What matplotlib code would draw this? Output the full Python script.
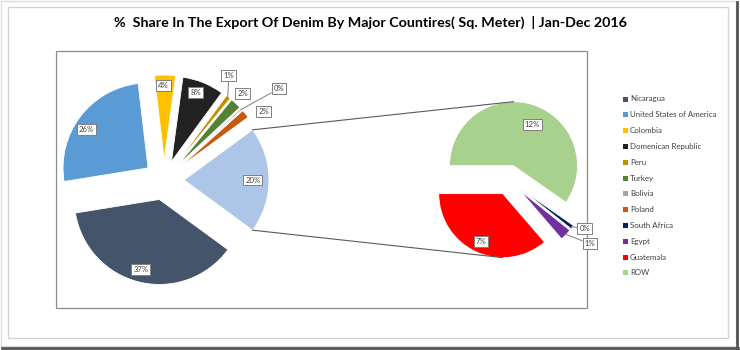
import numpy as np
import matplotlib
matplotlib.use('Agg')
import matplotlib.pyplot as plt
from matplotlib.patches import Rectangle

# main pie (clockwise), last slice "other" is split into the secondary pie
main_names = ['Nicaragua', 'United States of America', 'Colombia', 'Domenican Republic',
              'Peru', 'Turkey', 'Bolivia', 'Poland']
main_values = [37.4, 25.7, 4.0, 7.9, 0.9, 2.1, 0.3, 1.6]
sub_names = ['South Africa', 'Egypt', 'Guatemala', 'ROW']
sub_values = [0.2, 0.6, 7.3, 12.0]

main_colors = ['#44546A', '#5B9BD5', '#FFC000', '#222222', '#BF9000', '#548235', '#A5A5A5', '#C55A11']
sub_colors = ['#002060', '#7030A0', '#FF0000', '#A9D18E']
other_color = '#ADC6E8'

title = '%  Share In The Export Of Denim By Major Countires( Sq. Meter)  | Jan-Dec 2016'

W, H = 740, 350
FONT = ['Lato', 'DejaVu Sans']

fig = plt.figure(figsize=(W / 100, H / 100), dpi=100)
ax = fig.add_axes([0, 0, 1, 1])


def iy(y):
    # image row -> data y
    return H - y


# pie geometry
c1, r1, ex1 = (164, iy(180)), 85, 20
c2, r2, ex2 = (509, iy(180)), 64, 15

other = sum(sub_values)
vals1 = main_values + [other]
cols1 = main_colors + [other_color]
start1 = -360 * other / 100 / 2
w1, _ = ax.pie(vals1, colors=cols1, startangle=start1, counterclock=False,
               explode=[ex1] * len(vals1), radius=r1, center=c1,
               wedgeprops=dict(edgecolor='white', linewidth=0.6))

start2 = 180 + 360 * (sub_values[0] + sub_values[1] + sub_values[2]) / other - 360
w2, _ = ax.pie(sub_values, colors=sub_colors, startangle=start2, counterclock=False,
               explode=[ex2] * len(sub_values), radius=r2, center=c2,
               wedgeprops=dict(edgecolor='white', linewidth=0.6))


def mid_angle(w):
    return np.deg2rad((w.theta1 + w.theta2) / 2)


def polar(c, d, a):
    return (c[0] + d * np.cos(a), c[1] + d * np.sin(a))


box = dict(boxstyle='square,pad=0.25', fc='white', ec='#7F7F7F', lw=0.7)

# label placement: (distance from pie centre, angle shift in degrees, leader line)
lab1 = [(ex1 + 0.85 * r1, -1, False), (ex1 + 0.85 * r1, 4, False), (ex1 + 0.88 * r1, 1, False),
        (ex1 + 0.86 * r1, 2, False), (123, 6, True), (117, 1, False), (147, -4, True),
        (121, -4.5, False), (ex1 + 0.81 * r1, 0, False)]
lab2 = [(90, 4, True), (103, 5.6, True), (ex2 + 0.82 * r2, 0, False), (ex2 + 0.71 * r2, -5, False)]


def put_labels(wedges, values, c, r, ex, spec):
    for w, v, (d, shift, leader) in zip(wedges, values, spec):
        a = mid_angle(w)
        pos = polar(c, d, a + np.deg2rad(shift))
        txt = f'{round(v)}%'
        if leader:
            tip = polar(c, r + ex - 1, a)
            ax.annotate(txt, xy=tip, xytext=pos, ha='center', va='center', fontsize=5.6,
                        family=FONT, color='#404040', bbox=box, zorder=5,
                        arrowprops=dict(arrowstyle='-', color='#7F7F7F', lw=0.7,
                                        shrinkA=0, shrinkB=0))
        else:
            ax.text(pos[0], pos[1], txt, ha='center', va='center', fontsize=5.6,
                    family=FONT, color='#404040', bbox=box, zorder=5)


put_labels(w1, vals1, c1, r1, ex1, lab1)
put_labels(w2, sub_values, c2, r2, ex2, lab2)

# connector lines between the "other" slice and the secondary pie
ow = w1[-1]
oc = ow.center
top1 = polar(oc, r1, np.deg2rad(ow.theta2))
bot1 = polar(oc, r1, np.deg2rad(ow.theta1))
rc = w2[-1].center
gc = w2[2].center
ax.plot([top1[0], rc[0]], [top1[1], rc[1] + r2], color='#595959', lw=0.8, zorder=1)
ax.plot([bot1[0], gc[0]], [bot1[1], gc[1] - r2], color='#595959', lw=0.8, zorder=1)

# legend
names = main_names + sub_names
colors = main_colors + sub_colors
for i, (n, col) in enumerate(zip(names, colors)):
    y = iy(99 + i * 15.8)
    ax.add_patch(Rectangle((622.5, y - 2.5), 5, 5, fc=col, ec='none'))
    ax.text(630, y, n, ha='left', va='center', fontsize=5.7, family=FONT, color='#404040')

# title
ax.text(370, iy(22), title, ha='center', va='center', fontsize=10.3, fontweight='bold',
        family=FONT, color='#000000')

# frames
ax.add_patch(Rectangle((56, iy(308)), 587 - 56, 308 - 51, fill=False, ec='#8C8C8C', lw=0.9))
ax.add_patch(Rectangle((8, iy(338)), 728 - 8, 338 - 7, fill=False, ec='#D4D4D4', lw=1))
ax.add_patch(Rectangle((1, iy(346)), 735, 345, fill=False, ec='#DDDDDD', lw=1))
ax.plot([737, 737], [iy(2), iy(348)], color='#555555', lw=2)
ax.plot([2, 738], [iy(348), iy(348)], color='#555555', lw=2)

ax.set_xlim(0, W)
ax.set_ylim(0, H)
ax.set_aspect('auto')
ax.axis('off')

fig.savefig('out.png', dpi=100)
